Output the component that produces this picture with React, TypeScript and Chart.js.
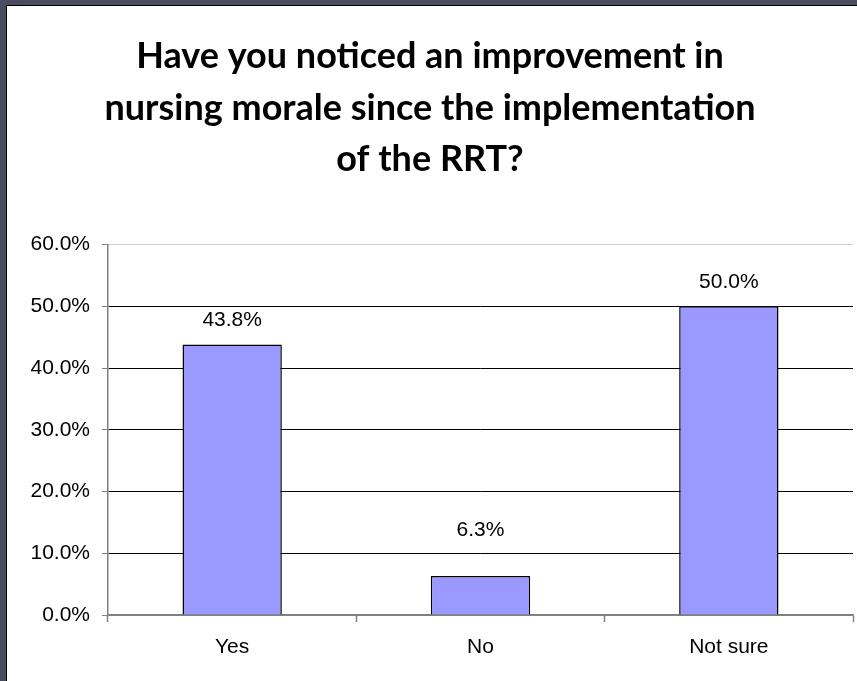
import React, { useEffect, useRef } from "react";
import { Chart, registerables } from "chart.js";

Chart.register(...registerables);

const titleLines = [
  "Have you noticed an improvement in",
  "nursing morale since the implementation",
  "of the RRT?",
];
const categories = ["Yes", "No", "Not sure"];
const percentages = [43.8, 6.3, 50.0];
const valueLabels = ["43.8%", "6.3%", "50.0%"];
const yTicks = [0, 10, 20, 30, 40, 50, 60];

const labelPlugin = {
  id: "barValueLabels",
  afterDatasetsDraw(chart: any, _args: any, opts: any) {
    const ctx = chart.ctx;
    const meta = chart.getDatasetMeta(0);
    const lifts: number[] = opts.lifts || [];
    ctx.save();
    ctx.font = "21px 'Liberation Sans', Arial, sans-serif";
    ctx.fillStyle = "#000";
    ctx.textAlign = "center";
    ctx.textBaseline = "middle";
    meta.data.forEach((bar: any, i: number) => {
      ctx.fillText(valueLabels[i], bar.x, bar.y - (lifts[i] ?? 24));
    });
    ctx.restore();
  },
};

export default function App() {
  const ref = useRef<HTMLCanvasElement | null>(null);

  useEffect(() => {
    if (!ref.current) return;
    const chart = new Chart(ref.current, {
      type: "bar",
      data: {
        labels: categories,
        datasets: [
          {
            data: percentages,
            backgroundColor: "#9999ff",
            borderColor: "#000000",
            borderWidth: 1.5,
            barPercentage: 0.8,
            categoryPercentage: 0.5,
          },
        ],
      },
      options: {
        responsive: false,
        animation: false,
        layout: { padding: { left: 0, right: 4, top: 0, bottom: 0 } },
        plugins: {
          legend: { display: false },
          tooltip: { enabled: false },
          title: {
            display: true,
            text: titleLines,
            color: "#000",
            font: { family: "Lato, 'Open Sans', sans-serif", size: 36, weight: "bold", lineHeight: 51.5 / 36 },
            padding: { top: 25, bottom: 59 },
          },
          barValueLabels: { lifts: [24, 46, 24] },
        } as any,
        scales: {
          x: {
            offset: true,
            grid: {
              display: true,
              offset: true,
              drawOnChartArea: false,
              drawTicks: true,
              tickLength: 7,
              tickColor: "#808080",
              tickWidth: 1.5,
            },
            border: { color: "#808080", width: 1.5 },
            ticks: {
              color: "#000",
              padding: 13,
              font: { family: "'Liberation Sans', Arial, sans-serif", size: 21 },
            },
            afterFit(scale: any) {
              scale.height = 66;
            },
          },
          y: {
            min: 0,
            max: 60,
            afterBuildTicks(scale: any) {
              scale.ticks = yTicks.map((v) => ({ value: v }));
            },
            grid: {
              color: (c: any) => (c.tick && c.tick.value === 60 ? "#cfcfcf" : c.tick && c.tick.value === 0 ? "#808080" : "#000000"),
              lineWidth: 1,
              tickLength: 6,
              tickColor: "#808080",
            },
            border: { color: "#808080", width: 1.5 },
            ticks: {
              color: "#000",
              padding: 12,
              font: { family: "'Liberation Sans', Arial, sans-serif", size: 21 },
              callback: (v: any) => Number(v).toFixed(1) + "%",
            },
            afterFit(scale: any) {
              scale.width = 101;
            },
          },
        },
      },
      plugins: [labelPlugin],
    });
    return () => chart.destroy();
  }, []);

  return (
    <div
      style={{
        position: "fixed",
        left: 0,
        top: 0,
        width: 857,
        height: 681,
        background: "#4b4d5f",
        overflow: "hidden",
      }}
    >
      <div
        style={{
          position: "absolute",
          left: 6,
          top: 5,
          width: 851,
          height: 676,
          background: "#000",
        }}
      />
      <div
        style={{
          position: "absolute",
          left: 7,
          top: 6,
          width: 850,
          height: 675,
          background: "#fff",
        }}
      >
        <canvas ref={ref} width={850} height={675} style={{ display: "block", width: 850, height: 675 }} />
      </div>
    </div>
  );
}
